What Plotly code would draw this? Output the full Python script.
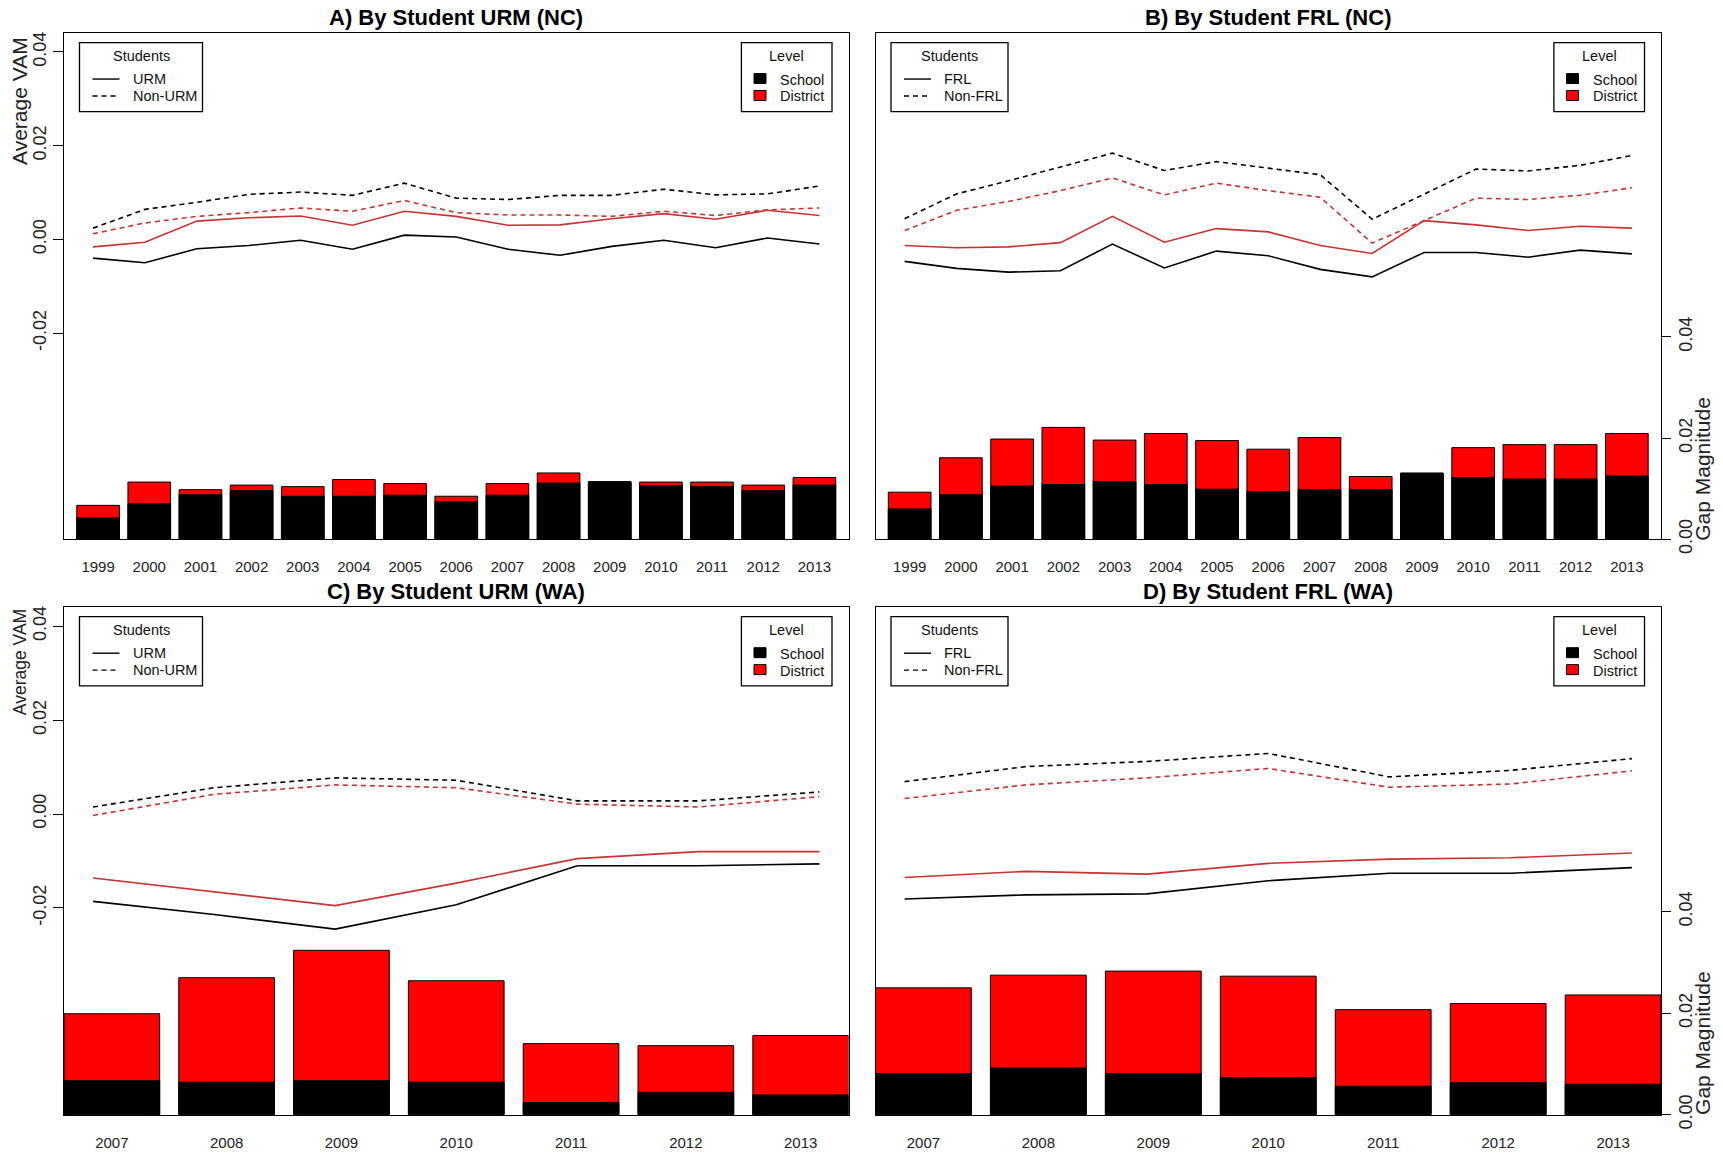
import plotly.graph_objects as go

# target picture size; vertical correction measured on the rendered page
PAGE_W, PAGE_H = 1723, 1156
SY = 0.9895
W = PAGE_W
H = 1168

# ---------------- data ----------------
years_nc = ["1999", "2000", "2001", "2002", "2003", "2004", "2005", "2006",
            "2007", "2008", "2009", "2010", "2011", "2012", "2013"]
years_nc_num = [1999, 2000, 2001, 2002, 2003, 2004, 2005, 2006,
                2007, 2008, 2009, 2010, 2011, 2012, 2013]
years_wa = ["2007", "2008", "2009", "2010", "2011", "2012", "2013"]
years_wa_num = [2007, 2008, 2009, 2010, 2011, 2012, 2013]

# Panel A: URM (NC)
A_urm_school = [-0.0040, -0.0050, -0.0020, -0.0013, -0.0002, -0.0021, 0.0009, 0.0005,
                -0.0021, -0.0034, -0.0015, -0.0002, -0.0018, 0.0003, -0.0010]
A_urm_district = [-0.0016, -0.0006, 0.0039, 0.0046, 0.0050, 0.0030, 0.0060, 0.0049,
                  0.0030, 0.0031, 0.0044, 0.0055, 0.0043, 0.0062, 0.0051]
A_nonurm_school = [0.0024, 0.0064, 0.0079, 0.0096, 0.0101, 0.0094, 0.0120, 0.0088,
                   0.0085, 0.0094, 0.0094, 0.0107, 0.0095, 0.0097, 0.0114]
A_nonurm_district = [0.0012, 0.0035, 0.0049, 0.0057, 0.0067, 0.0060, 0.0083, 0.0057,
                     0.0052, 0.0052, 0.0049, 0.0060, 0.0051, 0.0063, 0.0067]
A_gap_school = [0.0042, 0.0070, 0.0088, 0.0096, 0.0085, 0.0085, 0.0087, 0.0074,
                0.0087, 0.0111, 0.0114, 0.0106, 0.0104, 0.0096, 0.0107]
A_gap_district = [0.0067, 0.0113, 0.0098, 0.0107, 0.0104, 0.0118, 0.0110, 0.0085,
                  0.0110, 0.0131, 0.0112, 0.0113, 0.0113, 0.0107, 0.0122]

# Panel B: FRL (NC)
B_frl_school = [-0.0047, -0.0062, -0.0070, -0.0067, -0.0010, -0.0061, -0.0025, -0.0035,
                -0.0064, -0.0080, -0.0028, -0.0028, -0.0038, -0.0023, -0.0031]
B_frl_district = [-0.0013, -0.0018, -0.0016, -0.0007, 0.0049, -0.0006, 0.0023, 0.0016,
                  -0.0013, -0.0030, 0.0040, 0.0031, 0.0019, 0.0028, 0.0024]
B_nonfrl_school = [0.0044, 0.0097, 0.0125, 0.0154, 0.0184, 0.0147, 0.0166, 0.0152,
                   0.0138, 0.0043, 0.0097, 0.0150, 0.0146, 0.0158, 0.0179]
B_nonfrl_district = [0.0019, 0.0062, 0.0081, 0.0104, 0.0131, 0.0095, 0.0120, 0.0104,
                     0.0090, -0.0008, 0.0040, 0.0088, 0.0085, 0.0094, 0.0110]
B_gap_school = [0.0060, 0.0088, 0.0105, 0.0108, 0.0114, 0.0108, 0.0099, 0.0094,
                0.0098, 0.0098, 0.0131, 0.0122, 0.0119, 0.0119, 0.0125]
B_gap_district = [0.0093, 0.0161, 0.0198, 0.0221, 0.0196, 0.0209, 0.0195, 0.0178,
                  0.0201, 0.0124, 0.0128, 0.0181, 0.0187, 0.0187, 0.0209]

# Panel C: URM (WA)
C_urm_school = [-0.0186, -0.0214, -0.0245, -0.0193, -0.0110, -0.0110, -0.0106]
C_urm_district = [-0.0136, -0.0166, -0.0195, -0.0147, -0.0095, -0.0080, -0.0080]
C_nonurm_school = [0.0015, 0.0056, 0.0077, 0.0072, 0.0028, 0.0028, 0.0047]
C_nonurm_district = [-0.0003, 0.0042, 0.0062, 0.0056, 0.0021, 0.0015, 0.0037]
C_gap_school = [0.0067, 0.0064, 0.0067, 0.0064, 0.0024, 0.0044, 0.0039]
C_gap_district = [0.0199, 0.0270, 0.0324, 0.0264, 0.0140, 0.0136, 0.0156]

# Panel D: FRL (WA)
D_frl_school = [-0.0181, -0.0172, -0.0170, -0.0142, -0.0126, -0.0126, -0.0114]
D_frl_district = [-0.0135, -0.0122, -0.0128, -0.0105, -0.0096, -0.0093, -0.0083]
D_nonfrl_school = [0.0069, 0.0101, 0.0112, 0.0129, 0.0079, 0.0093, 0.0118]
D_nonfrl_district = [0.0033, 0.0062, 0.0077, 0.0097, 0.0057, 0.0064, 0.0092]
D_gap_school = [0.0081, 0.0092, 0.0081, 0.0073, 0.0056, 0.0063, 0.0060]
D_gap_district = [0.0250, 0.0275, 0.0283, 0.0273, 0.0207, 0.0219, 0.0236]

titles = ["A) By Student URM (NC)", "B) By Student FRL (NC)",
          "C) By Student URM (WA)", "D) By Student FRL (WA)"]
groups = [("URM", "Non-URM"), ("FRL", "Non-FRL"), ("URM", "Non-URM"), ("FRL", "Non-FRL")]

# ---------------- style ----------------
FONT = "Liberation Sans, Arial, Helvetica, sans-serif"
BLACK = "#000000"
LINE_RED = "#C83232"
BAR_RED = "#FF0000"
DASH = "5px,4px"
LW = 1.6

panels = [
    dict(cat=years_nc, num=years_nc_num,
         lines=(A_urm_school, A_urm_district, A_nonurm_school, A_nonurm_district),
         gaps=(A_gap_school, A_gap_district), left=True, right=False,
         px=(64, 848.5), py=(32.3, 540.0), sw=123, vam_font=21, vam_dy=68),
    dict(cat=years_nc, num=years_nc_num,
         lines=(B_frl_school, B_frl_district, B_nonfrl_school, B_nonfrl_district),
         gaps=(B_gap_school, B_gap_district), left=False, right=True,
         px=(875.5, 1661), py=(32.3, 540.0), sw=117, vam_font=21, vam_dy=68),
    dict(cat=years_wa, num=years_wa_num,
         lines=(C_urm_school, C_urm_district, C_nonurm_school, C_nonurm_district),
         gaps=(C_gap_school, C_gap_district), left=True, right=False,
         px=(64, 848.5), py=(608.3, 1117.3), sw=123, vam_font=17.5, vam_dy=55),
    dict(cat=years_wa, num=years_wa_num,
         lines=(D_frl_school, D_frl_district, D_nonfrl_school, D_nonfrl_district),
         gaps=(D_gap_school, D_gap_district), left=False, right=True,
         px=(875.5, 1661), py=(608.3, 1117.3), sw=117, vam_font=21, vam_dy=68),
]


def fx(px):
    """target pixel x -> paper fraction"""
    return px / W


def fy(py):
    """target pixel y -> paper fraction"""
    return 1 - (py / SY) / H


fig = go.Figure()
layout = dict(width=W, height=H, margin=dict(l=0, r=0, t=0, b=0),
              paper_bgcolor="white", plot_bgcolor="white", showlegend=False,
              barmode="overlay", bargap=1 - 1 / 1.2,
              font=dict(family=FONT, color="#111"))
annotations = []
shapes = []

for i, p in enumerate(panels):
    kb = 2 * i + 1      # base axes: bars (gap magnitude)
    ko = 2 * i + 2      # overlay axes: lines (average VAM)
    xb, yb = f"x{kb}", f"y{kb}"
    xo, yo = f"x{ko}", f"y{ko}"
    n = len(p["cat"])
    dom_x = [fx(p["px"][0]), fx(p["px"][1])]
    dom_y = [fy(p["py"][1]), fy(p["py"][0])]

    # bars: district (red) behind, school (black) in front
    fig.add_trace(go.Bar(x=p["cat"], y=p["gaps"][1], xaxis=xb, yaxis=yb,
                         marker=dict(color=BAR_RED, line=dict(color="#000", width=1))))
    fig.add_trace(go.Bar(x=p["cat"], y=p["gaps"][0], xaxis=xb, yaxis=yb,
                         marker=dict(color=BLACK, line=dict(color="#000", width=1))))

    school, district, non_school, non_district = p["lines"]
    fig.add_trace(go.Scatter(x=p["num"], y=non_district, mode="lines", xaxis=xo, yaxis=yo,
                             line=dict(color=LINE_RED, width=LW, dash=DASH)))
    fig.add_trace(go.Scatter(x=p["num"], y=district, mode="lines", xaxis=xo, yaxis=yo,
                             line=dict(color=LINE_RED, width=LW)))
    fig.add_trace(go.Scatter(x=p["num"], y=non_school, mode="lines", xaxis=xo, yaxis=yo,
                             line=dict(color=BLACK, width=LW, dash=DASH)))
    fig.add_trace(go.Scatter(x=p["num"], y=school, mode="lines", xaxis=xo, yaxis=yo,
                             line=dict(color=BLACK, width=LW)))

    extra = 0.25 if n == 15 else 0.0
    layout[f"xaxis{kb}"] = dict(domain=dom_x, anchor=yb, type="category",
                                range=[-0.5 / 1.2 - extra, n - 1 + 0.5 / 1.2 + extra],
                                showline=False, showgrid=False, zeroline=False, ticks="",
                                tickfont=dict(size=15, color="#222"), ticklabelstandoff=17)
    layout[f"yaxis{kb}"] = dict(domain=dom_y, anchor=xb, side="right", range=[0, 0.1],
                                showgrid=False, zeroline=False, showline=False,
                                tickvals=[0, 0.02, 0.04] if p["right"] else [],
                                ticktext=["0.00", "0.02", "0.04"] if p["right"] else [],
                                ticks="outside" if p["right"] else "", ticklen=9,
                                tickwidth=1.2, tickcolor="#000", tickangle=-90,
                                tickfont=dict(size=18, color="#222"),
                                showticklabels=p["right"], ticklabelstandoff=-1)
    span = p["num"][-1] - p["num"][0]
    layout[f"xaxis{ko}"] = dict(domain=dom_x, anchor=yo, overlaying=xb, type="linear",
                                range=[p["num"][0] - 0.04 * span, p["num"][-1] + 0.04 * span],
                                showline=True, mirror=True, linecolor="#000", linewidth=1.3,
                                showgrid=False, zeroline=False, ticks="", showticklabels=False)
    layout[f"yaxis{ko}"] = dict(domain=dom_y, anchor=xo, overlaying=yb, side="left",
                                range=[-0.064, 0.044],
                                showline=True, mirror=True, linecolor="#000", linewidth=1.3,
                                showgrid=False, zeroline=False,
                                tickvals=[-0.02, 0, 0.02, 0.04] if p["left"] else [],
                                ticktext=["-0.02", "0.00", "0.02", "0.04"] if p["left"] else [],
                                ticks="outside" if p["left"] else "", ticklen=10,
                                tickwidth=1.2, tickcolor="#000", tickangle=-90,
                                tickfont=dict(size=18, color="#222"),
                                showticklabels=p["left"], ticklabelstandoff=0)

    L, R = p["px"]
    T = p["py"][0]
    # panel title
    annotations.append(dict(text="<b>" + titles[i] + "</b>", x=fx((L + R) / 2), y=fy(T - 15.8),
                            xref="paper", yref="paper", showarrow=False,
                            font=dict(size=22, color="#000"), xanchor="center", yanchor="middle"))
    # axis titles
    if p["left"]:
        annotations.append(dict(text="Average VAM", x=fx(20), y=fy(T + p["vam_dy"]), xref="paper",
                                yref="paper", showarrow=False, textangle=-90,
                                font=dict(size=p["vam_font"], color="#222"),
                                xanchor="center", yanchor="middle"))
    if p["right"]:
        annotations.append(dict(text="Gap Magnitude", x=fx(1703), y=fy(T + 437), xref="paper",
                                yref="paper", showarrow=False, textangle=-90,
                                font=dict(size=21, color="#222"),
                                xanchor="center", yanchor="middle"))

    # Students legend box
    sl = L + 15.5
    sr = sl + p["sw"]
    bt, bb = T + 9.4, T + 78.7
    shapes.append(dict(type="rect", xref="paper", yref="paper", x0=fx(sl), x1=fx(sr),
                       y0=fy(bb), y1=fy(bt), line=dict(color="#000", width=1.3),
                       fillcolor="white"))
    annotations.append(dict(text="Students", x=fx((sl + sr) / 2), y=fy(T + 23), xref="paper",
                            yref="paper", showarrow=False, font=dict(size=14.5, color="#111"),
                            xanchor="center", yanchor="middle"))
    for j, (lab, dash) in enumerate([(groups[i][0], "solid"), (groups[i][1], DASH)]):
        yy = T + 46 + 17 * j
        shapes.append(dict(type="line", xref="paper", yref="paper", x0=fx(sl + 13),
                           x1=fx(sl + 40), y0=fy(yy), y1=fy(yy),
                           line=dict(color="#000", width=1.4, dash=dash)))
        annotations.append(dict(text=lab, x=fx(sl + 51), y=fy(yy), xref="paper", yref="paper",
                                showarrow=False, font=dict(size=14.5, color="#111"),
                                xanchor="left", yanchor="middle"))

    # Level legend box
    lr = R - 16.5
    ll = lr - 90.6
    shapes.append(dict(type="rect", xref="paper", yref="paper", x0=fx(ll), x1=fx(lr),
                       y0=fy(bb), y1=fy(bt), line=dict(color="#000", width=1.3),
                       fillcolor="white"))
    annotations.append(dict(text="Level", x=fx((ll + lr) / 2), y=fy(T + 23), xref="paper",
                            yref="paper", showarrow=False, font=dict(size=14.5, color="#111"),
                            xanchor="center", yanchor="middle"))
    for j, (lab, col) in enumerate([("School", BLACK), ("District", BAR_RED)]):
        yy = T + 45.5 + 17 * j
        shapes.append(dict(type="rect", xref="paper", yref="paper", x0=fx(ll + 12.6),
                           x1=fx(ll + 24.6), y0=fy(yy + 5), y1=fy(yy - 5),
                           line=dict(color="#000", width=1), fillcolor=col))
        annotations.append(dict(text=lab, x=fx(ll + 37), y=fy(yy + 1), xref="paper",
                                yref="paper", showarrow=False, font=dict(size=14.5, color="#111"),
                                xanchor="left", yanchor="middle"))

layout["annotations"] = annotations
layout["shapes"] = shapes
fig.update_layout(**layout)
fig.write_html("out.html", config={"displayModeBar": False},
               post_script="document.body.style.margin='0px';")
